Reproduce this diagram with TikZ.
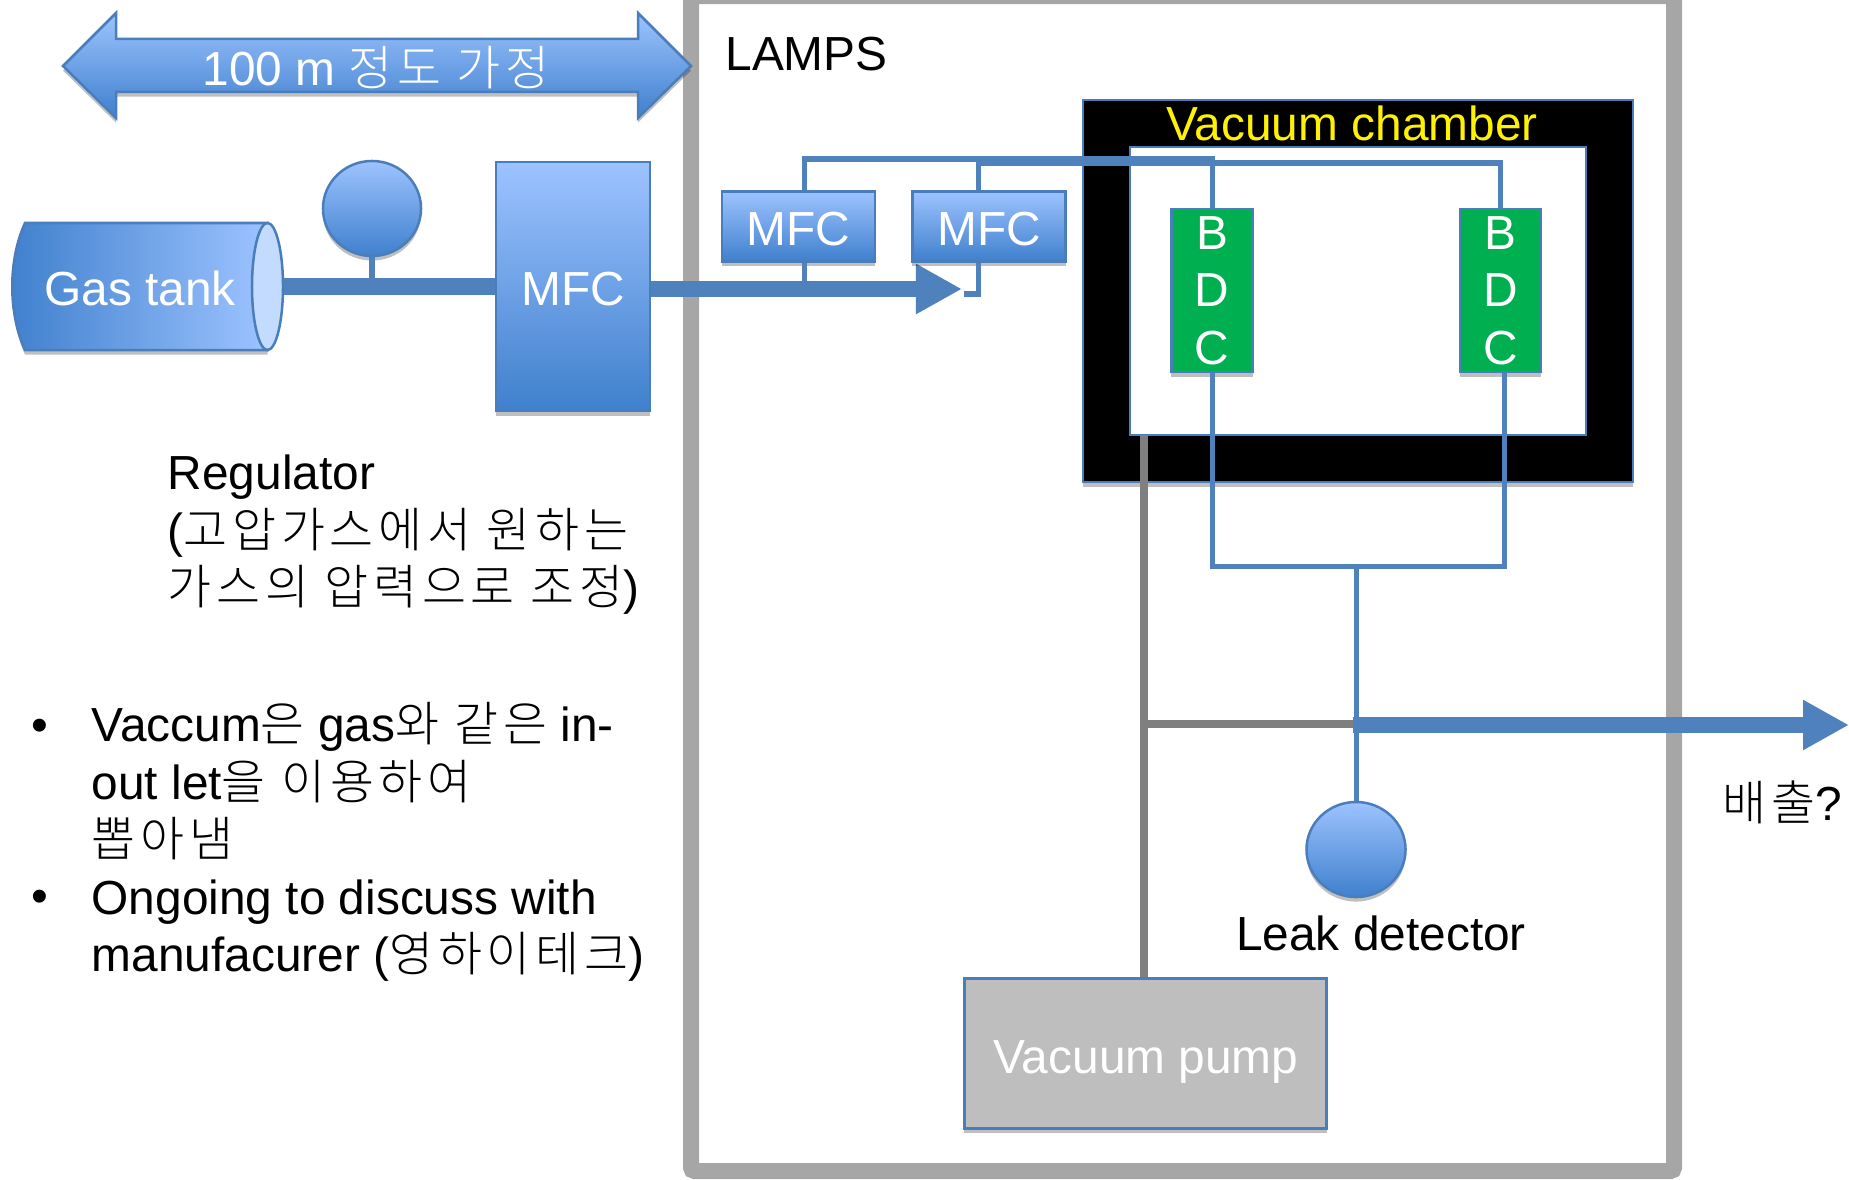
\documentclass[tikz,border=0pt]{standalone}
\usepackage{fontspec}
\usepackage{xcolor}
\setmainfont{Liberation Sans}
\newfontfamily\krfont[LetterSpace=10]{Noto Sans CJK KR Light}
\newcommand{\kr}[1]{{\krfont #1}}
\usetikzlibrary{positioning, shapes.geometric, arrows.meta, shadows}
\definecolor{blueline}{HTML}{4F81BD}
\definecolor{blueedge}{HTML}{4A7EBB}
\definecolor{bluetop}{HTML}{9DC3FF}
\definecolor{bluebot}{HTML}{3F80CD}
\definecolor{bluecap}{HTML}{C3DBFF}
\definecolor{frameg}{HTML}{A6A6A6}
\definecolor{pumpg}{HTML}{BEBEBE}
\definecolor{lineg}{HTML}{7F7F7F}
\definecolor{bdcg}{HTML}{00B050}
\tikzset{
  softshadow/.style={drop shadow={shadow xshift=0pt, shadow yshift=-1.3pt, opacity=.25, fill=black}},
  bluebox/.style={rectangle, draw=blueedge, line width=.25mm, top color=bluetop, bottom color=bluebot,
        inner sep=0pt, text=white, text height=11.2pt, softshadow},
  bdcbox/.style={rectangle, draw=blueedge, line width=.25mm, fill=bdcg, inner sep=0pt, text=white,
        align=center, minimum width=.81cm, minimum height=1.63cm, softshadow},
  thinpipe/.style={blueline, line width=.05cm},
  gaspipe/.style={blueline, line width=.16cm},
  graypipe/.style={lineg, line width=.08cm},
  bigtip/.style={-{Triangle[length=.46cm, width=.47cm]}},
  every node/.append style={font=\fontsize{13.6}{16.36}\selectfont}
}
\begin{document}
\begin{tikzpicture}[x=.01cm, y=-.01cm]
  \useasboundingbox (0,0) rectangle (1849,1179);

  % LAMPS frame
  \draw[frameg, line width=.16cm, rounded corners=1pt] (691,-4) rectangle (1674,1171);
  \node[anchor=west] (lamps) at (713,54) {LAMPS};

  % Distance arrow
  \draw[draw=blueedge, line width=.25mm, top color=bluetop, bottom color=bluebot, softshadow]
    (63,66) -- (116,13) -- (116,39) -- (638,39) -- (638,13) -- (691,66)
    -- (638,118) -- (638,92) -- (116,92) -- (116,118) -- cycle;
  \node[text=white] (dist) at (376,68) {100 m \kr{정도 가정}};

  % Gas side
  \draw[draw=blueedge, line width=.25mm, left color=bluebot, right color=bluetop, softshadow]
    (267.5,223) -- (25,223) .. controls (8,260) and (8,313) .. (25,350) -- (267.5,350) -- cycle;
  \node[ellipse, draw=blueedge, line width=.25mm, fill=bluecap, inner sep=0pt,
        minimum width=.31cm, minimum height=1.27cm] (tankcap) at (267.5,286.5) {};
  \node[text=white] (tank) at (140,288) {Gas tank};
  \node[bluebox, minimum width=1.54cm, minimum height=2.49cm] (mfcbig) at (573,286.5) {MFC};
  \coordinate (gasend) at (962,289);
  \draw[gaspipe] (tankcap.east) -- (mfcbig.west);
  \draw[gaspipe, bigtip] (mfcbig.east |- gasend) -- (gasend);

  % Regulator gauge
  \node[ellipse, draw=blueedge, line width=.25mm, top color=bluetop, bottom color=bluebot, inner sep=0pt,
        minimum width=.98cm, minimum height=.95cm, softshadow] (gauge) at (372,208.5) {};
  \coordinate (gaugefoot) at (372,287);
  \draw[blueline, line width=.06cm] (gauge.south) -- (gaugefoot);

  % Small MFCs
  \foreach \name/\x in {mfca/798.5, mfcb/989} {
    \node[bluebox, minimum width=1.53cm, minimum height=.7cm] (\name) at (\x,226.5) {MFC};
  }

  % Vacuum chamber
  \node[rectangle, draw=blueedge, line width=.25mm, fill=black, minimum width=5.5cm, minimum height=3.82cm,
        inner sep=0pt, softshadow] (chamber) at (1358,291) {};
  \node[rectangle, draw=blueedge, line width=.25mm, fill=white, minimum width=4.56cm, minimum height=2.88cm,
        inner sep=0pt] (inner) at (1358,291) {};
  \node[text=yellow] (chamberlabel) at (1352,123) {Vacuum chamber};
  \foreach \name/\x in {bdca/1212, bdcb/1500.5} {
    \node[bdcbox] (\name) at (\x,290.5) {B\\D\\C};
  }

  % Gas lines to the BDCs
  \coordinate (toplinea) at (804,159);
  \coordinate (toplineb) at (978,163);
  \draw[thinpipe] (mfca.north -| toplinea) -- (toplinea) -| (bdca.north);
  \draw[thinpipe] (mfcb.north -| toplineb) -- (toplineb) -| (bdcb.north);
  \coordinate (feeda) at (804,292);
  \coordinate (feedb) at (964,294);
  \draw[thinpipe] (mfca.south -| feeda) -- (feeda);
  \draw[thinpipe] (mfcb.south -| toplineb) |- (feedb);

  % Lines out of the BDCs
  \coordinate (joinl) at (1212,566);
  \coordinate (joinr) at (1504,566);
  \coordinate (joinm) at (1356,566);
  \draw[thinpipe] (bdca.south) -- (joinl) -- (joinr) -- (bdcb.south -| joinr);

  % Leak detector
  \node[ellipse, draw=blueedge, line width=.25mm, top color=bluetop, bottom color=bluebot, inner sep=0pt,
        minimum width=.99cm, minimum height=.95cm, softshadow] (leak) at (1356,849.5) {};
  \node (leaklabel) at (1381,933) {Leak detector};
  \draw[thinpipe] (joinm) -- (leak.north);

  % Vacuum pump
  \node[rectangle, draw=blueedge, line width=.25mm, fill=pumpg, inner sep=0pt,
        minimum width=3.62cm, minimum height=1.5cm, softshadow] (pump) at (1145.5,1053.5) {};
  \node[text=white] (pumplabel) at (1146,1062) {Vacuum pump};
  \coordinate (pumptop) at (1144,435);
  \coordinate (ventl) at (1144,724);
  \coordinate (ventm) at (1356,724);
  \coordinate (ventstart) at (1353,725);
  \coordinate (ventend) at (1849,725);
  \draw[graypipe] (pumptop) -- (pumptop |- pump.north);
  \draw[graypipe] (ventl) -- (ventm);
  \draw[gaspipe, bigtip] (ventstart) -- (ventend);
  \node (vent) at (1782,802) {\kr{배출}?};

  % Notes
  \node[anchor=west, align=left, inner sep=0pt] (regnote) at (167,535)
    {Regulator\\(\kr{고압가스에서 원하는}\\\kr{가스의 압력으로 조정})};
  \node[anchor=west, align=left, inner sep=0pt] (notes) at (91,842)
    {Vaccum\kr{은} gas\kr{와 같은} in-\\out let\kr{을 이용하여}\\\kr{뽑아냄}\\Ongoing to discuss with\\manufacurer (\kr{영하이테크})};
  \foreach \name/\y in {bulleta/730, bulletb/901} {
    \node[inner sep=0pt] (\name) at (40,\y) {•};
  }
\end{tikzpicture}
\end{document}
